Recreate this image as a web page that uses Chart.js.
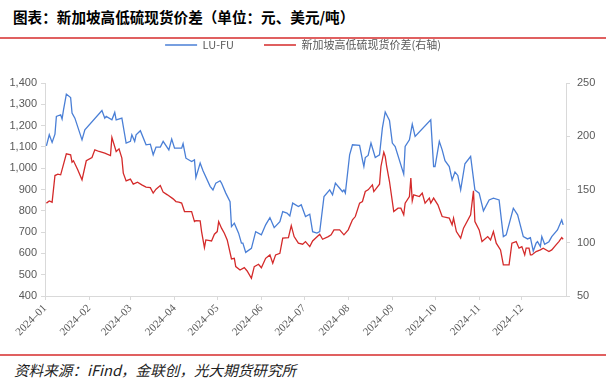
<!DOCTYPE html>
<html>
<head>
<meta charset="utf-8">
<script src="https://cdn.jsdelivr.net/npm/chart.js@4.4.1/dist/chart.umd.min.js"></script>
<style>
  html, body { margin: 0; padding: 0; background: #fff; }
  #page { position: relative; width: 606px; height: 387px; overflow: hidden; background: #fff; }
  #title { position: absolute; left: 13px; top: 6px; font: bold 14.6px "Noto Sans CJK SC"; color: #000; white-space: nowrap; }
  .rule { position: absolute; left: 0; width: 606px; height: 2px; background: #e06060; }
  #source { position: absolute; left: 14px; top: 359px; font: italic 14.6px "Noto Sans CJK SC"; color: #222; white-space: nowrap; }
  #wrap { position: absolute; left: 0; top: 0; width: 606px; height: 350px; }
</style>
</head>
<body>
<div id="page">
  <div id="title">图表：新加坡高低硫现货价差（单位：元、美元/吨）</div>
  <div class="rule" style="top:37px"></div>
  <div id="wrap"><canvas id="chart"></canvas></div>
  <div class="rule" style="top:354px"></div>
  <div id="source">资料来源：iFind，金联创，光大期货研究所</div>
</div>
<script>
// LU-FU (left axis, 元/吨)
const luFuDates = ["01-02","01-04","01-06","01-08","01-09","01-12","01-13","01-14","01-16","01-19",
  "01-20","01-22","01-27","01-29","02-10","02-12","02-13","02-17","02-19","02-20",
  "02-24","02-26","02-27","03-01","03-02","03-04","03-05","03-08","03-12","03-15",
  "03-17","03-19","03-22","03-24","03-28","03-30","04-01","04-06","04-07","04-09",
  "04-13","04-15","04-16","04-19","04-21","04-26","04-28","04-30","05-03","05-04",
  "05-07","05-10","05-11","05-13","05-16","05-18","05-19","05-21","05-25","05-28",
  "06-01","06-04","06-07","06-10","06-14","06-16","06-19","06-21","06-23","06-27",
  "06-29","07-02","07-05","07-07","07-10","07-12","07-15","07-19","07-21","07-23",
  "07-26","07-28","07-29","07-30","08-02","08-04","08-09","08-11","08-12","08-13",
  "08-15","08-17","08-20","08-23","08-25","08-27","08-30","09-01","09-03","09-09",
  "09-10","09-13","09-15","09-17","09-28","09-30","10-01","10-04","10-06","10-08",
  "10-11","10-13","10-15","10-17","10-19","10-22","10-26","10-29","11-01","11-04",
  "11-08","11-11","11-15","11-18","11-20","11-25","11-28","12-02","12-05","12-07",
  "12-09","12-11","12-12","12-14","12-15","12-17","12-20","12-22","12-26","12-29","12-30"];
const luFuValues = [1105,1157,1121,1160,1243,1251,1231,1274,1348,1332,
  1259,1235,1133,1180,1271,1235,1243,1227,1262,1227,
  1235,1157,1118,1126,1157,1126,1157,1176,1110,1113,
  1063,1099,1099,1126,1086,1137,1094,1094,1115,1047,
  1031,1039,956,1024,988,915,898,930,941,930,
  883,843,726,742,695,648,648,605,624,702,
  687,734,768,721,749,796,789,776,836,820,
  828,773,784,702,695,702,867,898,875,930,
  906,890,898,883,1063,1110,1107,1039,1008,1050,
  1060,1118,1050,1063,1188,1264,1224,1118,1102,972,
  1102,1133,1207,1149,1227,1008,1008,1126,1086,1035,
  1008,945,982,966,898,1021,1055,898,883,800,
  851,859,851,679,687,812,781,679,668,674,
  611,648,655,632,679,643,655,679,710,757,734];

// 新加坡高低硫现货价差 (right axis, 美元/吨)
const spreadDates = ["01-02","01-04","01-06","01-08","01-10","01-12","01-16","01-19","01-20","01-21",
  "01-24","01-27","01-30","02-03","02-05","02-08","02-12","02-16","02-17","02-20",
  "02-22","02-24","02-25","02-27","03-01","03-03","03-06","03-09","03-12","03-15",
  "03-17","03-19","03-22","03-24","03-27","03-31","04-02","04-04","04-06","04-08",
  "04-13","04-15","04-16","04-19","04-20","04-22","04-23","04-27","04-29","05-01",
  "05-02","05-04","05-06","05-08","05-11","05-13","05-14","05-17","05-20","05-22",
  "05-25","05-27","05-30","06-01","06-04","06-07","06-09","06-11","06-14","06-16",
  "06-20","06-22","06-24","06-27","06-30","07-02","07-05","07-07","07-09","07-12",
  "07-14","07-18","07-20","07-22","07-26","07-29","08-01","08-04","08-06","08-09",
  "08-11","08-13","08-15","08-18","08-19","08-23","08-24","08-26","08-27","08-28",
  "08-30","09-02","09-05","09-07","09-09","09-10","09-13","09-14","09-15","09-16",
  "09-20","09-22","09-24","09-27","09-28","09-30","10-03","10-06","10-11","10-13",
  "10-14","10-16","10-19","10-21","10-26","10-28","10-29","11-01","11-03","11-07",
  "11-09","11-11","11-13","11-16","11-18","11-22","11-24","11-27","11-29","12-01",
  "12-03","12-04","12-06","12-07","12-08","12-11","12-14","12-16","12-20","12-22",
  "12-25","12-27","12-29","12-30"];
const spreadValues = [137.2,139.3,138.1,163.1,164.4,163.8,183.5,182.6,175.7,177.0,
  168.5,159.1,177.0,180.0,187.3,185.7,184.2,181.9,198.9,185.7,
  188.2,179.5,165.4,158.1,159.7,155.0,156.9,154.4,152.2,151.8,
  146.6,150.3,153.7,147.5,145.0,141.2,138.7,138.1,137.2,129.3,
  129.3,119.9,120.8,120.5,110.5,95.4,102.6,101.7,108.0,110.5,
  119.9,113.7,109.0,102.6,84.8,85.4,77.6,74.4,76.6,73.5,
  66.7,77.6,79.8,76.6,85.4,88.6,80.7,88.6,90.1,104.3,
  104.8,116.1,105.8,99.6,98.6,101.1,96.4,101.7,104.3,108.0,
  103.3,105.8,107.4,112.1,112.1,107.4,112.1,121.5,124.6,137.2,
  138.7,148.1,149.7,154.4,148.1,155.0,171.6,185.0,181.0,172.0,
  157.5,129.3,132.5,132.5,126.2,137.2,143.4,160.7,139.3,145.0,
  143.4,146.6,137.2,141.9,137.2,141.9,135.6,124.6,123.1,116.8,
  123.1,110.5,104.3,113.7,126.2,148.7,119.9,112.1,101.1,105.8,
  102.6,110.5,99.6,93.3,79.2,79.2,99.6,101.1,94.9,96.4,
  88.6,94.9,94.9,88.6,88.6,91.7,93.3,94.9,91.7,93.3,
  98.0,101.1,104.8,103.3];

const monthTicks = ["01","02","03","04","05","06","07","08","09","10","11","12"];

const dayOf = s => (Date.UTC(2024, +s.slice(0, 2) - 1, +s.slice(3)) - Date.UTC(2024, 0, 1)) / 864e5;
const monthStarts = monthTicks.map(m => dayOf(m + "-01"));

const axisGray = "#d9d9d9";
const labelGray = "#595959";

// the legend sits well above the plot, closer to the title rule
const liftLegend = {
  id: "liftLegend",
  afterLayout(chart) {
    const lg = chart.legend;
    if (!lg) return;
    const dy = 45 - (lg.top + lg.options.labels.padding + 5.5);
    lg.top += dy;
    lg.bottom += dy;
  },
};

new Chart(document.getElementById("chart"), {
  type: "line",
  data: {
    datasets: [
      {
        label: "LU-FU",
        data: luFuDates.map((d, i) => ({ x: dayOf(d), y: luFuValues[i] })),
        yAxisID: "y",
        borderColor: "#4a7fd6",
        backgroundColor: "#4a7fd6",
        borderWidth: 1.3,
        pointRadius: 0,
        tension: 0,
      },
      {
        label: "新加坡高低硫现货价差(右轴)",
        data: spreadDates.map((d, i) => ({ x: dayOf(d), y: spreadValues[i] })),
        yAxisID: "y1",
        borderColor: "#d42a2a",
        backgroundColor: "#d42a2a",
        borderWidth: 1.3,
        pointRadius: 0,
        tension: 0,
      },
    ],
  },
  options: {
    responsive: true,
    maintainAspectRatio: false,
    animation: false,
    layout: { padding: { top: 9.5, left: 0, right: 0, bottom: 0 } },
    plugins: {
      tooltip: { enabled: false },
      legend: {
        position: "top",
        labels: {
          usePointStyle: true,
          pointStyle: "line",
          pointStyleWidth: 32,
          padding: 30,
          color: labelGray,
          font: { family: "'Noto Sans CJK SC'", size: 11 },
        },
      },
    },
    scales: {
      x: {
        type: "linear",
        min: 0,
        max: 366,
        afterBuildTicks: (s) => { s.ticks = monthStarts.map(v => ({ value: v })); },
        afterFit: (s) => { s.height = 54; },
        grid: { drawOnChartArea: false, tickLength: 4, color: axisGray },
        border: { color: axisGray },
        ticks: {
          autoSkip: false,
          maxRotation: 45,
          minRotation: 45,
          padding: 2,
          color: labelGray,
          font: { family: "'Liberation Serif'", size: 11 },
          callback: (v, i) => "2024–" + monthTicks[i],
        },
      },
      y: {
        position: "left",
        min: 400,
        max: 1400,
        afterFit: (s) => { s.width = 45; s.paddingTop = 83; },
        grid: { drawOnChartArea: false, tickLength: 4, color: axisGray },
        border: { color: axisGray },
        ticks: {
          stepSize: 100,
          padding: 4,
          color: labelGray,
          font: { family: "'Liberation Sans'", size: 11 },
          callback: (v) => v.toLocaleString("en-US"),
        },
      },
      y1: {
        position: "right",
        min: 50,
        max: 250,
        afterFit: (s) => { s.width = 40; },
        grid: { drawOnChartArea: false, tickLength: 4, color: axisGray },
        border: { color: axisGray },
        ticks: {
          stepSize: 50,
          padding: 7,
          color: labelGray,
          font: { family: "'Liberation Sans'", size: 11 },
        },
      },
    },
  },
  plugins: [liftLegend],
});
</script>
</body>
</html>
